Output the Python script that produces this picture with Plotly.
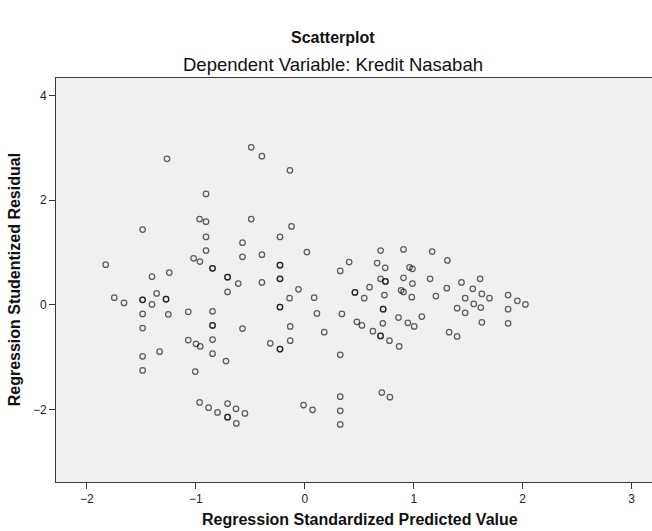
import plotly.graph_objects as go

# Regression Standardized Predicted Value (x) and Studentized Residual (y)
pred = [
    -1.265, -0.907, -0.966, -0.907, -1.489, -0.907, -0.907, -1.021, -0.963, -1.828,
    -1.403, -1.244, -1.749, -1.660, -1.489, -1.489, -1.360, -1.403, -1.274, -1.274,
    -1.489, -1.253, -1.070, -1.489, -1.070, -0.999, -0.960, -1.333, -1.489, -1.489,
    -1.006, -0.966,
    -0.492, -0.394, -0.137, -0.492, -0.122, -0.228, -0.572, -0.572, -0.394, 0.019,
    -0.847, -0.847, -0.709, -0.709, -0.611, -0.709, -0.394, -0.228, -0.228, -0.228,
    -0.228, -0.058, -0.140, -0.228, -0.228, -0.847, -0.847, -0.847, -0.572, -0.847,
    -0.847, -0.724, -0.134, -0.134, -0.317, -0.228, -0.228, -0.883, -0.801, -0.709,
    -0.632, -0.709, -0.709, -0.550, -0.629, -0.012, 0.071, 0.325, 0.325, 0.325,
    0.707, 0.781, 0.325, 0.178,
    0.086, 0.111, 0.325, 0.407, 0.340, 0.460, 0.460, 0.545, 0.594, 0.478,
    0.524, 0.625, 0.695, 0.695, 0.777, 0.866, 0.716, 0.719, 0.719, 0.731,
    0.695, 0.740, 0.740, 0.664, 0.738, 0.695, 0.906, 0.961, 0.988, 0.906,
    0.988, 0.884, 0.906, 0.982, 0.860, 0.946, 1.004, 1.169, 1.309, 1.150,
    1.203, 1.303, 1.074, 1.438, 1.542, 1.609, 1.472, 1.625, 1.695, 1.551,
    1.615, 1.398, 1.472, 1.625, 1.325, 1.398, 1.866, 1.951, 2.025, 1.866,
    1.866,
]
resid = [
    2.79, 2.12, 1.64, 1.59, 1.44, 1.30, 1.04, 0.89, 0.83, 0.77,
    0.54, 0.62, 0.14, 0.04, 0.10, 0.10, 0.22, 0.01, 0.11, 0.11,
    -0.17, -0.18, -0.13, -0.44, -0.67, -0.74, -0.79, -0.89, -0.98, -1.25,
    -1.27, -1.86,
    3.01, 2.84, 2.57, 1.64, 1.50, 1.30, 1.19, 0.92, 0.96, 1.01,
    0.70, 0.70, 0.53, 0.53, 0.41, 0.25, 0.43, 0.76, 0.76, 0.50,
    0.50, 0.30, 0.13, -0.04, -0.04, -0.12, -0.39, -0.39, -0.45, -0.66,
    -0.93, -1.07, -0.41, -0.68, -0.73, -0.84, -0.84, -1.96, -2.05, -1.88,
    -1.98, -2.14, -2.14, -2.07, -2.26, -1.91, -2.00, -1.75, -2.02, -2.28,
    -1.67, -1.76, -0.95, -0.52,
    0.14, -0.16, 0.65, 0.82, -0.17, 0.24, 0.24, 0.13, 0.34, -0.32,
    -0.39, -0.50, -0.59, -0.59, -0.68, -0.79, -0.35, -0.08, -0.08, 0.19,
    0.50, 0.45, 0.45, 0.80, 0.71, 1.04, 1.06, 0.72, 0.69, 0.52,
    0.41, 0.28, 0.25, 0.15, -0.24, -0.34, -0.41, 1.02, 0.85, 0.50,
    0.17, 0.32, -0.22, 0.43, 0.31, 0.50, 0.13, 0.21, 0.13, 0.02,
    -0.05, -0.06, -0.15, -0.33, -0.52, -0.60, 0.19, 0.08, 0.01, -0.08,
    -0.35,
]

x_ticks = [-2, -1, 0, 1, 2, 3]
y_ticks = [-2, 0, 2, 4]

title_main = "Scatterplot"
title_sub = "Dependent Variable: Kredit Nasabah"
x_title = "Regression Standardized Predicted Value"
y_title = "Regression Studentized Residual"

FONT = "Liberation Sans, Arial, sans-serif"

fig = go.Figure()
fig.add_trace(go.Scatter(
    x=pred, y=resid, mode="markers",
    marker=dict(symbol="circle-open", size=5.5,
                color="rgba(0,0,0,0.62)",
                line=dict(width=1.25, color="rgba(0,0,0,0.62)")),
    hoverinfo="x+y", showlegend=False,
))

axis_common = dict(
    showgrid=False, zeroline=False, showline=True, linecolor="#3a3a3a",
    linewidth=1, mirror=True, ticks="outside", ticklen=6, tickwidth=1,
    tickcolor="#3a3a3a", tickfont=dict(family=FONT, size=12, color="#222"),
)

# plot area in page pixels: left 56, right 652, top 78, bottom 482
fig.update_layout(
    width=652, height=531,
    margin=dict(l=56, r=0, t=78, b=49),
    paper_bgcolor="white", plot_bgcolor="#F0F0F0",
    font=dict(family=FONT, color="#111"),
    xaxis=dict(range=[-2.284, 3.187], tickvals=x_ticks, **axis_common),
    yaxis=dict(range=[-3.378, 4.332], tickvals=y_ticks, **axis_common),
    annotations=[
        dict(text="<b>" + title_main + "</b>", xref="paper", yref="paper",
             x=0.465, y=1.1, showarrow=False, xanchor="center", yanchor="middle",
             font=dict(family=FONT, size=16, color="#111")),
        dict(text=title_sub, xref="paper", yref="paper",
             x=0.465, y=1.033, showarrow=False, xanchor="center", yanchor="middle",
             font=dict(family=FONT, size=18.5, color="#111")),
        dict(text="<b>" + x_title + "</b>", xref="paper", yref="paper",
             x=0.51, y=-0.094, showarrow=False, xanchor="center", yanchor="middle",
             font=dict(family=FONT, size=16, color="#111")),
        dict(text="<b>" + y_title + "</b>", xref="paper", yref="paper",
             x=-0.07, y=0.5, showarrow=False, xanchor="center", yanchor="middle",
             textangle=-90, font=dict(family=FONT, size=16, color="#111")),
    ],
)

fig.write_html("out.html", config={"displayModeBar": False},
               post_script="document.body.style.margin='0';document.body.style.overflow='hidden';")
